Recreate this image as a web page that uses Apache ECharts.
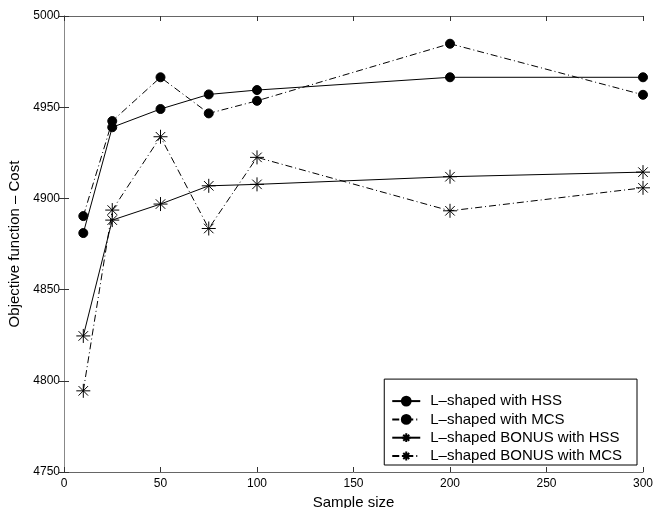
<!DOCTYPE html>
<html lang="en">
<head>
    <meta charset="UTF-8">
    <title>Objective function - Cost</title>
    <script src="https://cdn.jsdelivr.net/npm/echarts@6/dist/echarts.min.js"></script>
    <style>
        html, body { margin: 0; padding: 0; background: #fff; }
        #main { width: 653px; height: 508px; }
    </style>
</head>
<body>
    <div id="main"></div>
    <script>
        // sample sizes and objective values
        var sampleSize = [10, 25, 50, 75, 100, 200, 300];
        var lshapedHSS = [4881, 4939, 4949, 4957, 4959.4, 4966.4, 4966.4];
        var lshapedMCS = [4890.3, 4942.4, 4966.4, 4946.6, 4953.5, 4984.8, 4956.8];
        var bonusHSS = [4824.6, 4888.1, 4896.9, 4906.9, 4907.7, 4911.9, 4914.4];
        var bonusMCS = [4794.5, 4893.6, 4933.8, 4883.5, 4922.5, 4893.2, 4905.8];
        var seriesNames = ['L\u2013shaped with HSS', 'L\u2013shaped with MCS',
            'L\u2013shaped BONUS with HSS', 'L\u2013shaped BONUS with MCS'];

        function pairs(ys) {
            var out = [];
            for (var i = 0; i < sampleSize.length; i++) {
                out.push([sampleSize[i], ys[i]]);
            }
            return out;
        }

        var star = 'path://M0,5L10,5M5,0L5,10M1.6,1.6L8.4,8.4M8.4,1.6L1.6,8.4';
        var dashDot = [7, 3, 1, 3];
        var font = 'Liberation Sans, Arial, Helvetica, sans-serif';

        function makeSeries(name, ys, symbol, size, dash) {
            return {
                name: name,
                type: 'line',
                data: pairs(ys),
                symbol: symbol,
                symbolSize: size,
                showAllSymbol: true,
                xAxisIndex: 0,
                yAxisIndex: 0,
                lineStyle: { color: '#000', width: 1, type: dash },
                itemStyle: { color: '#000', borderColor: '#000', borderWidth: 1 },
                emphasis: { disabled: true },
                animation: false
            };
        }

        var chart = echarts.init(document.getElementById('main'));
        chart.setOption({
            animation: false,
            grid: { left: 64, right: 10, top: 16, bottom: 36, containLabel: false, outerBoundsMode: 'none' },
            legend: {
                orient: 'vertical',
                right: 16,
                bottom: 43,
                padding: [13, 15, 0, 7],
                itemWidth: 28,
                itemHeight: 11,
                itemGap: 0.3,
                backgroundColor: '#fff',
                borderColor: '#000',
                borderWidth: 1,
                borderRadius: 0,
                selectedMode: false,
                textStyle: { fontFamily: font, fontSize: 15, lineHeight: 18, color: '#000', padding: [0, 0, 0, 5] },
                data: seriesNames
            },
            xAxis: [{
                type: 'value',
                min: 0, max: 300, interval: 50,
                name: 'Sample size',
                nameLocation: 'middle',
                nameGap: 12,
                nameTextStyle: { fontFamily: font, fontSize: 15, color: '#000' },
                axisLine: { lineStyle: { color: '#666' } },
                axisTick: { inside: true, length: 5, lineStyle: { color: '#333' } },
                axisLabel: { fontFamily: font, fontSize: 12, color: '#000', margin: 6 },
                splitLine: { show: false }
            }, {
                type: 'value',
                position: 'top',
                min: 0, max: 300, interval: 50,
                axisLine: { lineStyle: { color: '#666' } },
                axisTick: { inside: true, length: 5, lineStyle: { color: '#333' } },
                axisLabel: { show: false },
                splitLine: { show: false }
            }],
            yAxis: [{
                type: 'value',
                min: 4750, max: 5000, interval: 50,
                name: 'Objective function \u2013 Cost',
                nameLocation: 'middle',
                nameGap: 36,
                nameTextStyle: { fontFamily: font, fontSize: 15, color: '#000' },
                axisLine: { lineStyle: { color: '#666' } },
                axisTick: { inside: true, length: 5, lineStyle: { color: '#333' } },
                axisLabel: {
                    fontFamily: font, fontSize: 12, color: '#000', margin: 4,
                    formatter: function (v) { return String(v); }
                },
                splitLine: { show: false }
            }, {
                type: 'value',
                position: 'right',
                min: 4750, max: 5000, interval: 50,
                axisLine: { lineStyle: { color: '#888' } },
                axisTick: { inside: true, length: 5, lineStyle: { color: '#333' } },
                axisLabel: { show: false },
                splitLine: { show: false }
            }],
            series: [
                makeSeries(seriesNames[0], lshapedHSS, 'circle', 9, 'solid'),
                makeSeries(seriesNames[1], lshapedMCS, 'circle', 9, dashDot),
                makeSeries(seriesNames[2], bonusHSS, star, 14, 'solid'),
                makeSeries(seriesNames[3], bonusMCS, star, 14, dashDot)
            ]
        });
    </script>
</body>
</html>
